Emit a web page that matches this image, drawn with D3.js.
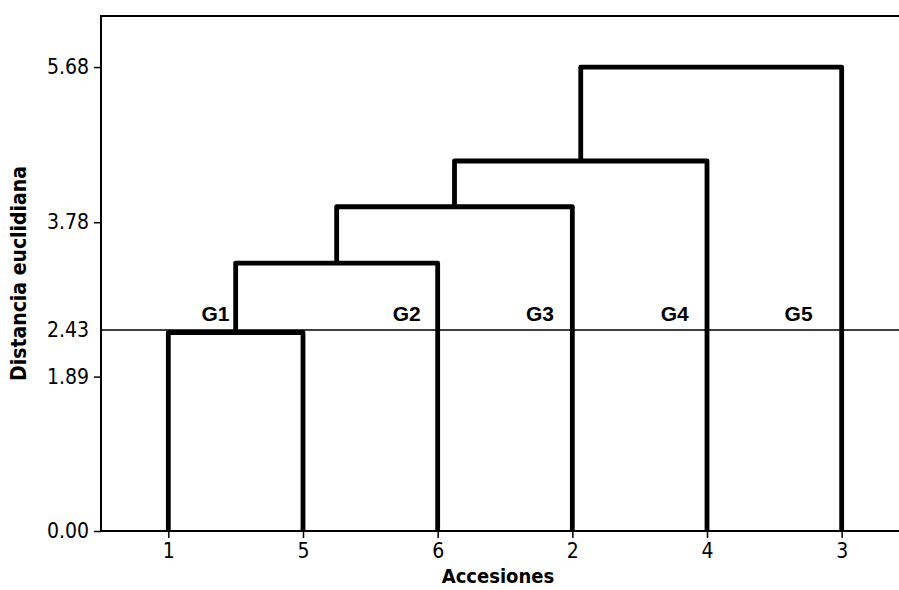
<!DOCTYPE html>
<html>
<head>
<meta charset="utf-8">
<script src="https://cdn.jsdelivr.net/npm/d3@7"></script>
<style>
body{margin:0;background:#fff;}
svg{display:block;}
.tick text{font-family:"DejaVu Sans Condensed","DejaVu Sans",sans-serif;font-size:21px;fill:#000;}
.ttl{font-family:"DejaVu Sans Condensed","DejaVu Sans",sans-serif;font-size:20px;font-weight:bold;}
.grp{font-family:"Liberation Sans",Arial,sans-serif;font-size:21px;font-weight:bold;}
</style>
</head>
<body>
<svg id="chart" width="899" height="590"></svg>
<script>
// leaves in dendrogram order
var leaves = ["1","5","6","2","4","3"];
// merges: left child, right child, height
var mergeLeft  = ["1","m1","m2","m3","m4"];
var mergeRight = ["5","6","2","4","3"];
var mergeHeight = [2.43,3.28,3.97,4.53,5.68];
var yTicks = [0,1.89,3.78,5.68];
var cutValue = 2.46, cutLabel = "2.43";
var groups = ["G1","G2","G3","G4","G5"];
var groupAt = [0.35,1.77,2.76,3.76,4.68];

var svg = d3.select("#chart");
var plotL = 101, plotT = 16, plotB = 531, plotR = 909;

var x = d3.scaleLinear().domain([-0.5,leaves.length-0.5]).range([plotL,plotR]);
var y = d3.scaleLinear().domain([0,6.305]).range([plotB,plotT]);

// node positions
var pos = {};
leaves.forEach(function(l,i){ pos[l] = {x:i,h:0}; });
var links = [];
for(var i=0;i<mergeLeft.length;i++){
	var a = pos[mergeLeft[i]], b = pos[mergeRight[i]], h = mergeHeight[i];
	links.push({a:a,b:b,h:h});
	pos["m"+(i+1)] = {x:(a.x+b.x)/2,h:h};
}

// frame
svg.append("rect")
	.attr("x",plotL).attr("y",plotT)
	.attr("width",plotR-plotL).attr("height",plotB-plotT)
	.style("fill","none").style("stroke","#000").style("stroke-width",2);

// cut line
svg.append("line")
	.attr("x1",plotL).attr("x2",plotR)
	.attr("y1",y(cutValue)).attr("y2",y(cutValue))
	.style("stroke","#000").style("stroke-width",1.5);

// dendrogram
svg.selectAll("path.link")
	.data(links)
	.enter().append("path")
	.attr("class","link")
	.attr("d",function(d){
		return "M"+x(d.a.x)+","+y(d.a.h)
			+"V"+y(d.h)
			+"H"+x(d.b.x)
			+"V"+y(d.b.h);
	})
	.style("fill","none")
	.style("stroke","#000")
	.style("stroke-width",4.8)
	.style("stroke-linejoin","round");

// axes
var xAxis = d3.axisBottom(x)
	.tickValues(d3.range(leaves.length))
	.tickFormat(function(i){ return leaves[i]; })
	.tickSize(7).tickPadding(5);
var gx = svg.append("g").attr("transform","translate(0,"+plotB+")").call(xAxis);
gx.select(".domain").remove();
gx.selectAll(".tick line").style("stroke","#000").style("stroke-width",1.5);

var yAxis = d3.axisLeft(y)
	.tickValues(yTicks)
	.tickFormat(d3.format(".2f"))
	.tickSize(7).tickPadding(5);
var gy = svg.append("g").attr("transform","translate("+plotL+",0)").call(yAxis);
gy.select(".domain").remove();
gy.selectAll(".tick line").style("stroke","#000").style("stroke-width",1.5);

// label for cut line (no tick mark)
svg.append("text")
	.attr("x",plotL-12).attr("y",y(cutValue))
	.attr("dy","0.32em")
	.attr("text-anchor","end")
	.style("font-family","\"DejaVu Sans Condensed\",\"DejaVu Sans\",sans-serif")
	.style("font-size","21px")
	.text(cutLabel);

// group labels
svg.selectAll("text.grp")
	.data(groups)
	.enter().append("text")
	.attr("class","grp")
	.attr("x",function(d,i){ return x(groupAt[i]); })
	.attr("y",y(cutValue)-9)
	.attr("text-anchor","middle")
	.text(function(d){ return d; });

// axis titles
svg.append("text")
	.attr("class","ttl")
	.attr("x",498).attr("y",583)
	.attr("text-anchor","middle")
	.text("Accesiones");

svg.append("text")
	.attr("class","ttl")
	.attr("transform","translate(26,"+((plotT+plotB)/2)+") rotate(-90)")
	.attr("text-anchor","middle")
	.style("font-size","21px")
	.text("Distancia euclidiana");
</script>
</body>
</html>
